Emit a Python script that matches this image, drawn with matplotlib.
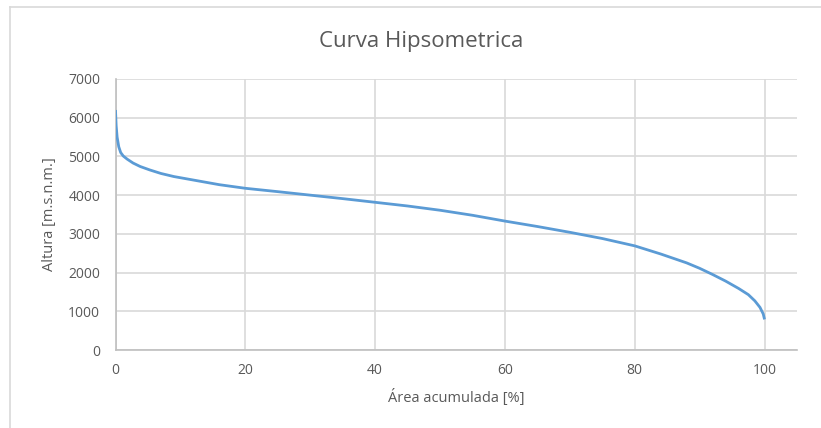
import matplotlib
matplotlib.use("Agg")
import matplotlib.pyplot as plt
from matplotlib.lines import Line2D

# Data
area_pct = [0, 0.1, 0.25, 0.5, 0.8, 1.2, 1.8, 2.7, 3.8, 5.3, 7, 9, 11, 13, 16, 20,
            25, 30, 35, 40, 45, 50, 55, 60, 65, 70, 75, 80, 84, 88, 90, 92, 94,
            96, 97.5, 98.5, 99.3, 99.8, 100]
altura = [6200, 5800, 5500, 5250, 5100, 5010, 4930, 4830, 4740, 4650, 4560, 4480,
          4420, 4360, 4270, 4177, 4090, 4000, 3910, 3815, 3720, 3610, 3480, 3330,
          3190, 3040, 2880, 2690, 2480, 2250, 2110, 1950, 1780, 1590, 1430, 1270,
          1100, 930, 790]
x_ticks = [0, 20, 40, 60, 80, 100]
y_ticks = [0, 1000, 2000, 3000, 4000, 5000, 6000, 7000]

plt.rcParams['font.family'] = ['Open Sans', 'DejaVu Sans']
text_col = '#595959'
grid_col = '#d9d9d9'

fig = plt.figure(figsize=(8.21, 4.28), dpi=100)
ax = fig.add_axes([115.5/821, 1-350/428, (797-115.5)/821, (350-79)/428])

ax.plot(area_pct, altura, color='#5b9bd5', lw=2.0, solid_capstyle='butt',
        solid_joinstyle='round', zorder=3)

ax.set_xlim(0, 105)
ax.set_ylim(0, 7000)
ax.set_xticks(x_ticks)
ax.set_yticks(y_ticks)
ax.grid(True, color=grid_col, lw=1.2)
ax.set_axisbelow(True)
for s in ['top', 'right']:
    ax.spines[s].set_visible(False)
for s in ['left', 'bottom']:
    ax.spines[s].set_color('#bfbfbf')
    ax.spines[s].set_linewidth(1.2)
ax.tick_params(length=0, colors=text_col, labelsize=10)
ax.tick_params(axis='y', pad=11)
ax.tick_params(axis='x', pad=9)

ax.set_xlabel('Área acumulada [%]', color=text_col, fontsize=10.5, labelpad=8)
ax.set_ylabel('Altura [m.s.n.m.]', color=text_col, fontsize=10.5, labelpad=8)

fig.text(421/821, 1-41/428, 'Curva Hipsometrica', ha='center', va='center',
         color=text_col, fontsize=16)

# chart-area border (left and top visible)
fig.add_artist(Line2D([10/821, 10/821], [0, 1-7/428], transform=fig.transFigure,
                      color=grid_col, lw=1.2))
fig.add_artist(Line2D([10/821, 1], [1-7/428, 1-7/428], transform=fig.transFigure,
                      color=grid_col, lw=1.2))

fig.savefig('out.png', dpi=100)
